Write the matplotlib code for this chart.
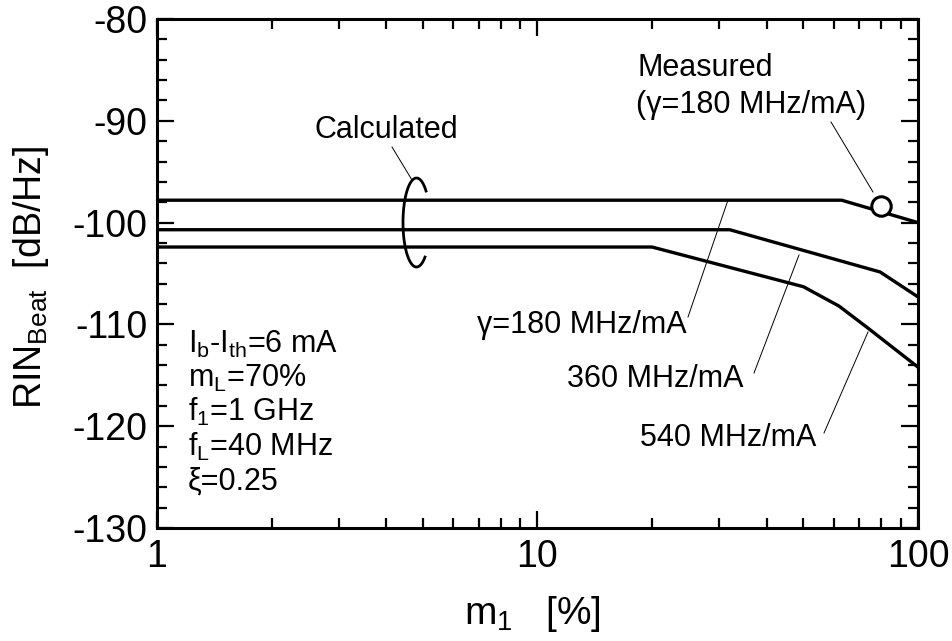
import numpy as np
import matplotlib
matplotlib.use("Agg")
import matplotlib.pyplot as plt
from matplotlib.ticker import MultipleLocator, LogLocator, NullFormatter, FixedFormatter, FixedLocator

plt.rcParams['font.family'] = ['Liberation Sans', 'DejaVu Sans']
plt.rcParams['mathtext.default'] = 'regular'
plt.rcParams['axes.unicode_minus'] = False

# Calculated RIN of the beat for three chirp coefficients
m1_180 = [1, 63, 100]
rin_180 = [-97.8, -97.8, -100.0]

m1_360 = [1, 32, 79.5, 100]
rin_360 = [-100.7, -100.7, -104.85, -107.3]

m1_540 = [1, 20, 50, 62, 73.5, 100]
rin_540 = [-102.4, -102.4, -106.3, -108.2, -110.3, -114.2]

# Measured point (gamma = 180 MHz/mA)
m1_meas = [80]
rin_meas = [-98.4]

x_ticks = [1, 10, 100]
x_ticklabels = ['1', '10', '100']
y_ticks = [-130, -120, -110, -100, -90, -80]

params = ['I$_b$-I$_{th}$=6 mA', 'm$_L$=70%', 'f$_1$=1 GHz', 'f$_L$=40 MHz', 'ξ=0.25']

W, H = 953, 641
fig = plt.figure(figsize=(W / 100, H / 100), dpi=100)
L, R, B, T = 157, 918, 528, 19
ax = fig.add_axes([L / W, 1 - B / H, (R - L) / W, (B - T) / H])


def px(x, y):
    """Pixel position -> axes fraction."""
    return ((x - L) / (R - L), (B - y) / (B - T))


lw = 2.4
ax.plot(m1_180, rin_180, color='black', lw=lw)
ax.plot(m1_360, rin_360, color='black', lw=lw)
ax.plot(m1_540, rin_540, color='black', lw=lw)
ax.plot(m1_meas, rin_meas, 'o', ms=14, mfc='white', mec='black', mew=2.2, zorder=5)

ax.set_xscale('log')
ax.set_xlim(1, 100)
ax.set_ylim(-130, -80)
ax.xaxis.set_major_locator(FixedLocator(x_ticks))
ax.xaxis.set_major_formatter(FixedFormatter(x_ticklabels))
ax.xaxis.set_minor_locator(LogLocator(base=10, subs=np.arange(2, 10)))
ax.xaxis.set_minor_formatter(NullFormatter())
ax.set_yticks(y_ticks)
ax.yaxis.set_minor_locator(MultipleLocator(2))

ax.tick_params(which='both', direction='in', top=True, right=True, width=1.6, labelsize=27)
ax.tick_params(which='major', length=12)
ax.tick_params(which='minor', length=7)
ax.tick_params(axis='x', pad=8)
ax.tick_params(axis='y', pad=7)
for s in ax.spines.values():
    s.set_linewidth(2.2)

ax.set_xlabel('m$_1$   [%]', fontsize=28)
ax.set_ylabel('RIN$_{Beat}$  [dB/Hz]', fontsize=27)
ax.xaxis.label.set_va('center')
ax.yaxis.label.set_va('center')
ax.xaxis.set_label_coords(*px(532, 614))
ax.yaxis.set_label_coords(*px(31, 277))

fs = 22
tr = ax.transAxes

# Parameter block
for i, t in enumerate(params):
    ax.text(*px(188, 353 + i * 34.2), t, fontsize=fs, transform=tr, va='baseline', ha='left')

# "Calculated" label with bracket around the three curves
ax.text(*px(315, 138), 'Calculated', fontsize=fs, transform=tr, va='baseline')
ax.plot(*zip(px(392, 147), px(412, 180)), color='black', lw=0.7, transform=tr)
th = np.radians(np.linspace(45, 309, 100))
cx, cy, a, b = 416.5, 222.5, 13.5, 44.5
bx = [px(cx + a * np.cos(t), cy - b * np.sin(t))[0] for t in th]
by = [px(cx + a * np.cos(t), cy - b * np.sin(t))[1] for t in th]
ax.plot(bx, by, color='black', lw=2.0, transform=tr)

# Measured label
ax.text(*px(638, 76), 'Measured', fontsize=fs, transform=tr, va='baseline')
ax.text(*px(636, 113), '(γ=180 MHz/mA)', fontsize=fs, transform=tr, va='baseline')
ax.plot(*zip(px(831, 122), px(873, 192)), color='black', lw=0.7, transform=tr)

# Curve labels with leader lines
ax.text(*px(477, 333), 'γ=180 MHz/mA', fontsize=fs, transform=tr, va='baseline')
ax.plot(*zip(px(688, 317), px(728, 200)), color='black', lw=0.7, transform=tr)
ax.text(*px(567, 387), '360 MHz/mA', fontsize=fs, transform=tr, va='baseline')
ax.plot(*zip(px(754, 373), px(799, 255)), color='black', lw=0.7, transform=tr)
ax.text(*px(640, 446), '540 MHz/mA', fontsize=fs, transform=tr, va='baseline')
ax.plot(*zip(px(824, 433), px(868, 332)), color='black', lw=0.7, transform=tr)

fig.savefig('out.png', dpi=100)
